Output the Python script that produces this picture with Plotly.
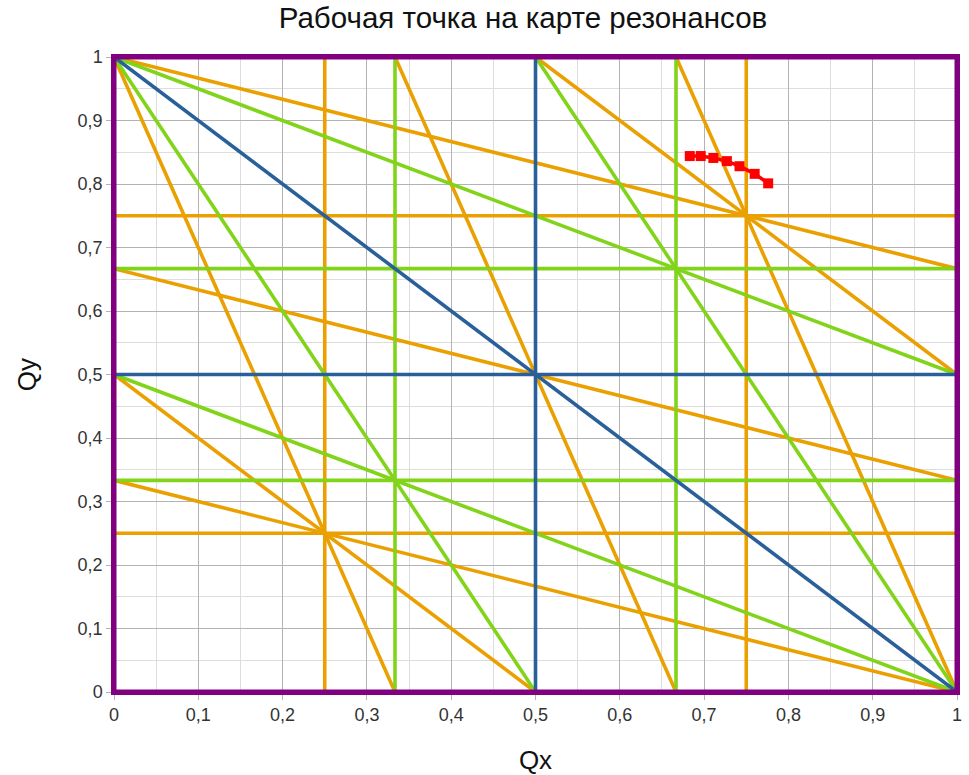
import plotly.graph_objects as go

# Resonance lines: (x0, y0, x1, y1)
blue_lines = [
    (0.5, 0, 0.5, 1), (0, 0.5, 1, 0.5), (0, 1, 1, 0),
]
green_lines = [
    (1/3, 0, 1/3, 1), (2/3, 0, 2/3, 1), (0, 1/3, 1, 1/3), (0, 2/3, 1, 2/3),
    (0, 1, 0.5, 0), (0.5, 1, 1, 0), (0, 0.5, 1, 0), (0, 1, 1, 0.5),
]
orange_lines = [
    (0.25, 0, 0.25, 1), (0.75, 0, 0.75, 1), (0, 0.25, 1, 0.25), (0, 0.75, 1, 0.75),
    (0, 1, 1/3, 0), (1/3, 1, 2/3, 0), (2/3, 1, 1, 0),
    (0, 1/3, 1, 0), (0, 2/3, 1, 1/3), (0, 1, 1, 2/3),
    (0, 0.5, 0.5, 0), (0.5, 1, 1, 0.5),
]
purple_lines = [
    (0, 0, 1, 0), (1, 0, 1, 1), (1, 1, 0, 1), (0, 1, 0, 0),
]
# Working point
qx = [0.683, 0.696, 0.711, 0.727, 0.742, 0.760, 0.776]
qy = [0.844, 0.844, 0.841, 0.836, 0.828, 0.816, 0.801]

tick_vals = [i / 10 for i in range(11)]
tick_text = ["0", "0,1", "0,2", "0,3", "0,4", "0,5", "0,6", "0,7", "0,8", "0,9", "1"]

FONT = "Liberation Sans, Arial, sans-serif"
PURPLE = "#800080"


def seg_trace(lines, color, width=3.6):
    xs, ys = [], []
    for x0, y0, x1, y1 in lines:
        xs += [x0, x1, None]
        ys += [y0, y1, None]
    return go.Scatter(x=xs, y=ys, mode="lines", line=dict(color=color, width=width),
                      showlegend=False, hoverinfo="skip", cliponaxis=False)


fig = go.Figure()
fig.add_trace(seg_trace(orange_lines, "#eaa000"))
fig.add_trace(seg_trace(green_lines, "#81d41a"))
fig.add_trace(seg_trace(blue_lines, "#2a6099"))
fig.add_trace(seg_trace(purple_lines, PURPLE, 5))
fig.add_trace(go.Scatter(x=qx, y=qy, mode="lines+markers",
                         line=dict(color="#ff0000", width=3.5),
                         marker=dict(symbol="square", size=10, color="#ff0000"),
                         showlegend=False))

axis_common = dict(
    range=[0, 1], tickvals=tick_vals, ticktext=tick_text,
    showgrid=True, gridcolor="#b3b3b3", gridwidth=1,
    minor=dict(dtick=0.05, showgrid=True, gridcolor="#dddddd", gridwidth=1),
    ticks="outside", ticklen=5, tickcolor="#b3b3b3",
    zeroline=False, showline=True, mirror=True, linecolor=PURPLE, linewidth=2.5,
    automargin=False,
    tickfont=dict(family=FONT, size=18, color="#333333"),
)

fig.update_layout(
    width=969, height=775,
    paper_bgcolor="white", plot_bgcolor="white",
    margin=dict(l=114, r=12, t=57, b=83),
    title=dict(text="Рабочая точка на карте резонансов", x=523 / 969, xanchor="center",
               xref="container", y=1 - 18 / 775, yref="container", yanchor="middle",
               font=dict(family=FONT, size=29.5, color="#111111")),
    xaxis=dict(axis_common, title=dict(text="Qx", standoff=30,
               font=dict(family=FONT, size=26, color="#111111"))),
    yaxis=dict(axis_common, title=dict(text="Qy", standoff=34,
               font=dict(family=FONT, size=26, color="#111111"))),
)

fig.write_html("out.html", config={"displayModeBar": False},
               post_script="document.body.style.margin='0';document.body.style.overflow='hidden';")
